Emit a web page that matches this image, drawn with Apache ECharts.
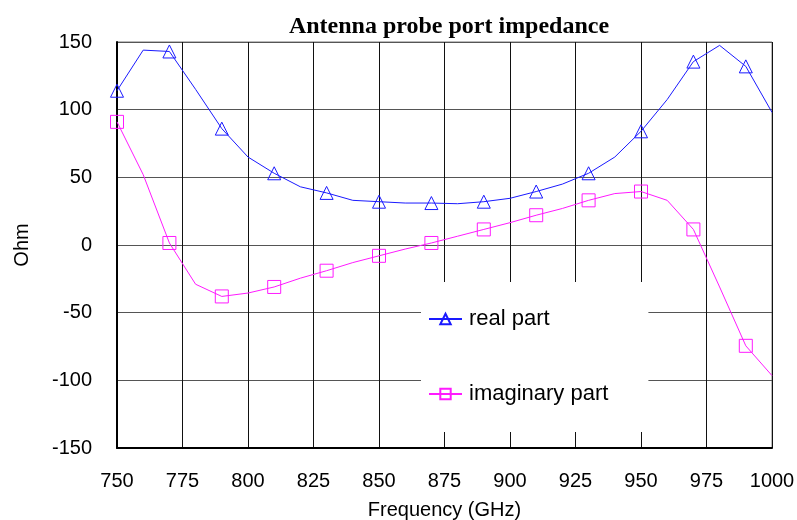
<!DOCTYPE html>
<html>
<head>
<meta charset="utf-8">
<script src="https://cdn.jsdelivr.net/npm/echarts@6/dist/echarts.min.js"></script>
<style>
  html, body { margin: 0; padding: 0; background: #fff; }
  #chart { width: 797px; height: 520px; }
</style>
</head>
<body>
<div id="chart"></div>
<script>
// Frequency samples (GHz), 10 GHz step
const freq = [750, 760, 770, 780, 790, 800, 810, 820, 830, 840, 850, 860, 870,
              880, 890, 900, 910, 920, 930, 940, 950, 960, 970, 980, 990, 1000];
// Real part of the probe port impedance (Ohm)
const realPart = [114, 144, 143, 115, 86, 65, 53, 43, 38.5, 33, 32, 31, 31,
                  30.5, 32, 34.5, 39.5, 45, 53, 65, 84, 107.5, 135.5, 147.5, 132, 98];
// Imaginary part of the probe port impedance (Ohm)
const imagPart = [91, 52, 1.5, -29, -38, -35.5, -31, -24.5, -19, -13, -8, -3, 1.5,
                  6.5, 11.5, 16.5, 22, 27, 33, 38, 39.5, 33, 11.5, -31, -74.5, -96.5];

const xTicks = { min: 750, max: 1000, step: 25 };
const yTicks = { min: -150, max: 150, step: 50 };

// markers sit on every second sample, starting at 750 GHz
function toData(vals) {
  return freq.map((f, i) => i % 2 === 0 ? [f, vals[i]] : { value: [f, vals[i]], symbol: 'none' });
}

const chart = echarts.init(document.getElementById('chart'), null, { renderer: 'canvas' });
const sans = 'Liberation Sans, Arial, sans-serif';

chart.setOption({
  animation: false,
  backgroundColor: '#fff',
  title: {
    text: 'Antenna probe port impedance',
    left: 444,
    top: 10,
    textAlign: 'center',
    textStyle: { fontFamily: 'Liberation Serif, Times New Roman, serif', fontWeight: 'bold', fontSize: 24, color: '#000' }
  },
  grid: {
    left: 117, right: 25, top: 42, bottom: 72,
    outerBoundsMode: 'none',
    containLabel: false,
    show: true, borderColor: '#777', borderWidth: 1, backgroundColor: '#fff'
  },
  xAxis: {
    type: 'value',
    min: xTicks.min, max: xTicks.max, interval: xTicks.step,
    name: 'Frequency (GHz)',
    nameLocation: 'middle',
    nameGap: 52,
    nameTextStyle: { fontFamily: sans, fontSize: 20, color: '#000' },
    axisLine: { onZero: false, lineStyle: { color: '#000', width: 2 } },
    axisTick: { show: false },
    axisLabel: { fontFamily: sans, fontSize: 20, color: '#000', margin: 23, formatter: v => String(v) },
    splitLine: { show: true, lineStyle: { color: '#111', width: 1 } }
  },
  yAxis: {
    type: 'value',
    min: yTicks.min, max: yTicks.max, interval: yTicks.step,
    name: 'Ohm',
    nameLocation: 'middle',
    nameGap: 85,
    nameRotate: 90,
    nameTextStyle: { fontFamily: sans, fontSize: 20, color: '#000' },
    axisLine: { show: true, lineStyle: { color: '#000', width: 2 } },
    axisTick: { show: false },
    axisLabel: { fontFamily: sans, fontSize: 20, color: '#000', margin: 25 },
    splitLine: { show: true, lineStyle: { color: '#555', width: 1 } }
  },
  legend: {
    orient: 'vertical',
    left: 421,
    top: 282,
    padding: [26, 40, 27, 7],
    backgroundColor: '#fff',
    itemWidth: 33,
    itemHeight: 13,
    itemGap: 53,
    textStyle: { fontFamily: sans, fontSize: 22, color: '#000', lineHeight: 22, padding: [0, 0, 0, 2] },
    data: ['real part', 'imaginary part']
  },
  series: [
    {
      name: 'real part',
      type: 'line',
      data: toData(realPart),
      symbol: 'triangle',
      symbolSize: 13,
      lineStyle: { color: '#1a1aff', width: 1 },
      itemStyle: { color: 'rgba(0,0,0,0)', borderColor: '#1a1aff', borderWidth: 1 },
      emphasis: { disabled: true },
      z: 3
    },
    {
      name: 'imaginary part',
      type: 'line',
      data: toData(imagPart),
      symbol: 'rect',
      symbolSize: 13,
      lineStyle: { color: '#ff1aff', width: 1 },
      itemStyle: { color: 'rgba(0,0,0,0)', borderColor: '#ff1aff', borderWidth: 1 },
      emphasis: { disabled: true },
      z: 3
    }
  ]
});
</script>
</body>
</html>
